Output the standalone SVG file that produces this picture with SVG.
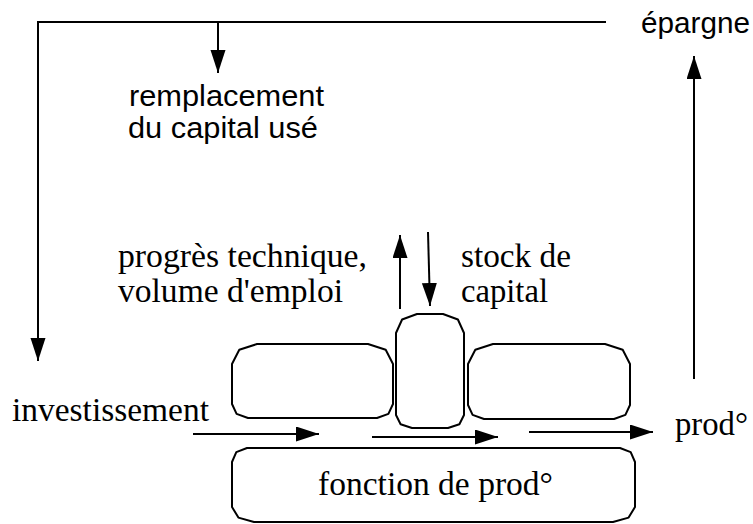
<svg xmlns="http://www.w3.org/2000/svg" width="753" height="524" viewBox="0 0 753 524">
  <style>
    .box { fill: none; stroke: #000; stroke-width: 2; stroke-linejoin: round; }
    .wire { fill: none; stroke: #000; stroke-width: 2; }
    .sans { font-family: "Liberation Sans", Arial, sans-serif; font-size: 30px; fill: #000; }
    .serif { font-family: "Liberation Serif", "Times New Roman", serif; font-size: 33px; fill: #000; }
  </style>
  <defs>
    <marker id="head" markerUnits="userSpaceOnUse" markerWidth="25" markerHeight="16" refX="23" refY="7.5" orient="auto">
      <path d="M0,0 L23,7.5 L0,15 Z" fill="#000"/>
    </marker>
  </defs>

  <rect width="753" height="524" fill="#fff"/>

  <!-- connectors -->
  <g id="connectors">
    <!-- savings loop back to investment -->
    <polyline class="wire" points="606,22 38,22 38,361" marker-end="url(#head)"/>
    <line class="wire" x1="218" y1="22" x2="218" y2="73" marker-end="url(#head)"/>
    <!-- output up to savings -->
    <line class="wire" x1="694" y1="379" x2="694" y2="56" marker-end="url(#head)"/>
    <!-- vertical arrows around the capital block -->
    <line class="wire" x1="400" y1="309" x2="400" y2="235" marker-end="url(#head)"/>
    <line class="wire" x1="428" y1="232" x2="430" y2="306" marker-end="url(#head)"/>
    <!-- flow through the production function -->
    <line class="wire" x1="193" y1="434" x2="319" y2="434" marker-end="url(#head)"/>
    <line class="wire" x1="372" y1="437" x2="498" y2="437" marker-end="url(#head)"/>
    <line class="wire" x1="529" y1="432" x2="653" y2="432" marker-end="url(#head)"/>
  </g>

  <!-- blocks -->
  <g id="block-left">
    <path class="box" d="M257,344 H368 L385.7,349.8 L393,364 V404 L388.4,413.9 L377,418 H248 L236.6,413.9 L232,404 V364 L239.3,349.8 Z"/>
  </g>
  <g id="block-center">
    <path class="box" d="M417,314 H443 L457.9,319.5 L464,333 V415 L459.4,424.2 L448,428 H412 L400.6,424.2 L396,415 V333 L402.1,319.5 Z"/>
  </g>
  <g id="block-right">
    <path class="box" d="M493,344 H605 L622.7,349.8 L630,364 V405 L625.4,414.9 L614,419 H484 L472.6,414.9 L468,405 V364 L475.3,349.8 Z"/>
  </g>
  <g id="production-function">
    <path class="box" d="M247,448 H620 L630.7,452.1 L635,462 V507 L628.6,517.6 L613,522 H254 L238.4,517.6 L232,507 V462 L236.3,452.1 Z"/>
    <text class="serif" x="318" y="495" textLength="235" lengthAdjust="spacingAndGlyphs">fonction de prod°</text>
  </g>

  <!-- labels -->
  <g id="label-epargne">
    <text class="sans" x="641" y="33" textLength="109" lengthAdjust="spacingAndGlyphs">épargne</text>
  </g>
  <g id="label-remplacement">
    <text class="sans" x="129" y="106" textLength="195" lengthAdjust="spacingAndGlyphs">remplacement</text>
    <text class="sans" x="128" y="138" textLength="190" lengthAdjust="spacingAndGlyphs">du capital usé</text>
  </g>
  <g id="label-progres">
    <text class="serif" x="118" y="267" textLength="249" lengthAdjust="spacingAndGlyphs">progrès technique,</text>
    <text class="serif" x="118" y="302" textLength="225" lengthAdjust="spacingAndGlyphs">volume d'emploi</text>
  </g>
  <g id="label-stock">
    <text class="serif" x="461" y="267" textLength="110" lengthAdjust="spacingAndGlyphs">stock de</text>
    <text class="serif" x="461" y="302" textLength="87" lengthAdjust="spacingAndGlyphs">capital</text>
  </g>
  <g id="label-investissement">
    <text class="serif" x="12" y="421" textLength="197" lengthAdjust="spacingAndGlyphs">investissement</text>
  </g>
  <g id="label-prod">
    <text class="serif" x="675" y="435" textLength="73" lengthAdjust="spacingAndGlyphs">prod°</text>
  </g>
</svg>
